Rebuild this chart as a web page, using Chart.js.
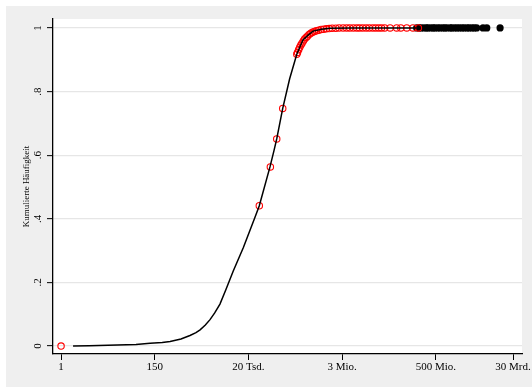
<!DOCTYPE html>
<html>
<head>
<meta charset="utf-8">
<script src="https://cdn.jsdelivr.net/npm/chart.js@4"></script>
<style>
  html, body { margin: 0; padding: 0; background: #fff; }
  #wrap { width: 532px; height: 387px; }
</style>
</head>
<body>
<div id="wrap"><canvas id="myChart" width="532" height="387"></canvas></div>
<script>
// x = ln(Größe), y = kumulierte Häufigkeit
const curveX = [0.64, 1.5, 3.0, 4.0, 4.75, 5.4, 5.82, 6.4, 6.88, 7.2, 7.42, 7.7, 7.95, 8.2, 8.48, 8.8, 9.19, 9.73, 10.35, 10.58, 11.15, 11.37, 11.51, 11.83, 12.2, 12.58, 12.91, 13.2, 13.45, 13.9, 14.35, 15.5, 17.0, 19.0];
const curveY = [0, 0.001, 0.003, 0.005, 0.0085, 0.011, 0.014, 0.022, 0.033, 0.042, 0.051, 0.066, 0.083, 0.104, 0.132, 0.178, 0.236, 0.31, 0.405, 0.441, 0.563, 0.616, 0.651, 0.747, 0.84, 0.917, 0.962, 0.978, 0.99, 0.996, 0.999, 1, 1, 1];

const redX = [0, 10.58, 11.17, 11.51, 11.83, 12.58, 12.62, 12.68, 12.74, 12.8, 12.86, 12.93, 13.0, 13.08, 13.15, 13.24, 13.33, 13.42, 13.52, 13.63, 13.75, 13.88, 14.02, 14.16, 14.31, 14.47, 14.66, 14.84, 15.05, 15.24, 15.41, 15.6, 15.78, 15.93, 16.1, 16.28, 16.45, 16.63, 16.79, 16.95, 17.1, 17.27, 17.56, 17.91, 18.13, 18.45, 18.78, 19.07];
const redY = [0, 0.441, 0.563, 0.651, 0.747, 0.917, 0.923, 0.931, 0.939, 0.946, 0.952, 0.959, 0.965, 0.97, 0.974, 0.979, 0.983, 0.986, 0.989, 0.991, 0.993, 0.995, 0.996, 0.997, 0.998, 0.999, 0.999, 1, 1, 1, 1, 1, 1, 1, 1, 1, 1, 1, 1, 1, 1, 1, 1, 1, 1, 1, 1, 1];

const blackX = [18.98, 19.12, 19.21, 19.36, 19.5, 19.58, 19.73, 19.86, 19.95, 20.1, 20.22, 20.37, 20.48, 20.6, 20.77, 20.85, 21.0, 21.13, 21.26, 21.4, 21.52, 21.67, 21.78, 21.93, 22.05, 22.18, 22.52, 22.72, 23.43];
const blackY = [1, 1, 1, 1, 1, 1, 1, 1, 1, 1, 1, 1, 1, 1, 1, 1, 1, 1, 1, 1, 1, 1, 1, 1, 1, 1, 1, 1, 1];

const xTickPos = [0, 5, 10, 15, 20, 24.12];
const xTickLabels = ['1', '150', '20 Tsd.', '3 Mio.', '500 Mio.', '30 Mrd.'];
const yTickPos = [0, 0.2, 0.4, 0.6, 0.8, 1];
const yTickLabels = ['0', '.2', '.4', '.6', '.8', '1'];

const toPoints = (xs, ys) => xs.map((x, i) => ({x: x, y: ys[i]}));

const bgPlugin = {
    id: 'bg',
    beforeDraw(chart) {
        const c = chart.ctx;
        const a = chart.chartArea;
        c.save();
        c.fillStyle = '#ffffff';
        c.fillRect(0, 0, chart.width, chart.height);
        c.fillStyle = '#efefef';
        c.fillRect(6, 6, chart.width - 6, chart.height - 6);
        c.fillStyle = '#ffffff';
        c.fillRect(a.left, a.top, a.right - a.left, a.bottom - a.top);
        c.restore();
    }
};

const serif = 'Liberation Serif';

const ctx = document.getElementById('myChart');
const chart = new Chart(ctx, {
    type: 'scatter',
    data: {
        datasets: [
            {
                data: toPoints(curveX, curveY),
                showLine: true,
                borderColor: '#000',
                borderWidth: 1.5,
                pointRadius: 0,
                tension: 0,
                order: 0
            },
            {
                data: toPoints(redX, redY),
                pointStyle: 'circle',
                pointRadius: 3.2,
                borderWidth: 1.1,
                borderColor: '#ff0000',
                backgroundColor: 'rgba(0,0,0,0)',
                order: 1
            },
            {
                data: toPoints(blackX, blackY),
                pointStyle: 'circle',
                pointRadius: 3.6,
                borderWidth: 0,
                backgroundColor: '#000',
                order: 2
            }
        ]
    },
    options: {
        responsive: false,
        animation: false,
        layout: { padding: { left: 0, top: 19, right: 10, bottom: 0 } },
        plugins: {
            legend: { display: false },
            tooltip: { enabled: false }
        },
        scales: {
            x: {
                type: 'linear',
                min: -0.43,
                max: 24.6,
                afterBuildTicks: (s) => { s.ticks = xTickPos.map(v => ({value: v})); },
                afterFit: (s) => { s.height = 33; },
                grid: { drawOnChartArea: false, drawTicks: true, tickLength: 6, tickColor: '#000', lineWidth: 1 },
                border: { display: true, color: '#000', width: 1.3 },
                ticks: {
                    autoSkip: false,
                    maxRotation: 0,
                    padding: 1,
                    color: '#000',
                    font: { family: serif, size: 11 },
                    callback: (v, i) => xTickLabels[i]
                }
            },
            y: {
                type: 'linear',
                min: -0.025,
                max: 1.028,
                afterBuildTicks: (s) => { s.ticks = yTickPos.map(v => ({value: v})); },
                afterFit: (s) => { s.width = 53; },
                grid: { color: '#e6e6e6', lineWidth: 1.3, tickLength: 6, tickColor: '#000', tickWidth: 1 },
                border: { display: true, color: '#000', width: 1.3 },
                title: {
                    display: true,
                    text: 'Kumulierte Häufigkeit',
                    color: '#000',
                    font: { family: serif, size: 9 },
                    padding: { top: 21, bottom: 0 }
                },
                ticks: {
                    autoSkip: false,
                    minRotation: 90,
                    maxRotation: 90,
                    crossAlign: 'center',
                    padding: 5,
                    color: '#000',
                    font: { family: serif, size: 11 },
                    callback: (v, i) => yTickLabels[i]
                }
            }
        }
    },
    plugins: [bgPlugin]
});
</script>
</body>
</html>
